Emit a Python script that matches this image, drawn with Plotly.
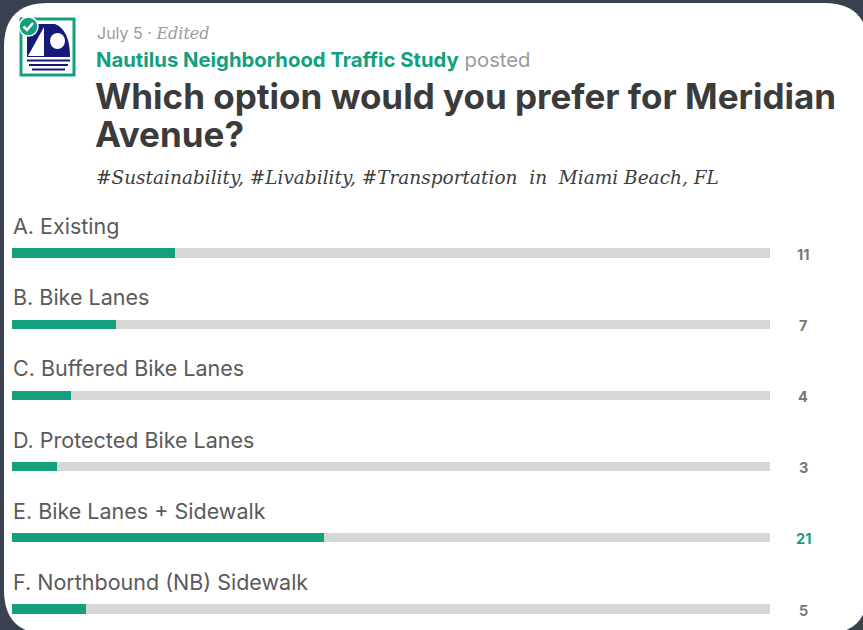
import plotly.graph_objects as go

# ---- data ----
options = ["A. Existing", "B. Bike Lanes", "C. Buffered Bike Lanes",
           "D. Protected Bike Lanes", "E. Bike Lanes + Sidewalk",
           "F. Northbound (NB) Sidewalk"]
votes = [11, 7, 4, 3, 21, 5]
total_votes = sum(votes)

W, H = 863, 630
GREEN = "#13a07e"
TRACK = "#d7d7d7"
NAVY = "#14197a"
BG = "#3a4150"
SANS = "Inter, Open Sans, sans-serif"


def px(x):
    return x / W


def py(y):
    return 1 - y / H


fig = go.Figure()

fig.add_trace(go.Bar(
    y=options, x=[total_votes] * len(options), orientation="h",
    marker=dict(color=TRACK, line=dict(width=0)), width=0.13,
    hoverinfo="skip", showlegend=False))
fig.add_trace(go.Bar(
    y=options, x=votes, orientation="h",
    marker=dict(color=GREEN, line=dict(width=0)), width=0.13,
    hoverinfo="skip", showlegend=False))

annotations = []
maxv = max(votes)
for opt, v in zip(options, votes):
    annotations.append(dict(
        x=0, y=opt, xref="x", yref="y", text=opt, showarrow=False,
        xanchor="left", yanchor="middle", yshift=27, xshift=-1,
        font=dict(family=SANS, size=21.5, color="#5a5a5a")))
    annotations.append(dict(
        x=px(803), y=opt, xref="paper", yref="y", text="<b>%d</b>" % v,
        showarrow=False, xanchor="center", yanchor="middle", yshift=-1,
        font=dict(family=SANS, size=14.5,
                  color=GREEN if v == maxv else "#777777")))

# header texts
annotations += [
    dict(x=px(95), y=py(33), xref="paper", yref="paper", showarrow=False,
         xanchor="left", yanchor="middle",
         text="July 5 · <i><span style='font-family:DejaVu Serif'>Edited</span></i>",
         font=dict(family=SANS, size=16, color="#9a9a9a")),
    dict(x=px(94), y=py(59), xref="paper", yref="paper", showarrow=False,
         xanchor="left", yanchor="middle",
         text="<b>Nautilus Neighborhood Traffic Study</b> <span style='color:#9a9a9a'>posted</span>",
         font=dict(family=SANS, size=20.3, color=GREEN)),
    dict(x=px(93), y=py(96), xref="paper", yref="paper", showarrow=False,
         xanchor="left", yanchor="middle", align="left",
         text="<b>Which option would you prefer for Meridian</b>",
         font=dict(family=SANS, size=35, color="#3b3b3b")),
    dict(x=px(93), y=py(134), xref="paper", yref="paper", showarrow=False,
         xanchor="left", yanchor="middle", align="left",
         text="<b>Avenue?</b>",
         font=dict(family=SANS, size=35, color="#3b3b3b")),
    dict(x=px(94), y=py(177), xref="paper", yref="paper", showarrow=False,
         xanchor="left", yanchor="middle",
         text="<i>#Sustainability, #Livability, #Transportation  in  Miami Beach, FL</i>",
         font=dict(family="DejaVu Serif, serif", size=18.5, color="#3d3d3d")),
]


def path_round_rect(x0, y0, x1, y1, r):
    def P(x, y):
        return "%.5f,%.5f" % (px(x), py(y))
    d = "M " + P(x0 + r, y0)
    d += " L " + P(x1 - r, y0)
    d += " Q " + P(x1, y0) + " " + P(x1, y0 + r)
    d += " L " + P(x1, y1 - r)
    d += " Q " + P(x1, y1) + " " + P(x1 - r, y1)
    d += " L " + P(x0 + r, y1)
    d += " Q " + P(x0, y1) + " " + P(x0, y1 - r)
    d += " L " + P(x0, y0 + r)
    d += " Q " + P(x0, y0) + " " + P(x0 + r, y0)
    return d + " Z"


def poly(points):
    return "M " + " L ".join("%.5f,%.5f" % (px(x), py(y)) for x, y in points) + " Z"


shapes = [
    # white card
    dict(type="path", xref="paper", yref="paper", layer="below",
         path=path_round_rect(4, 3, 868, 634, 44),
         fillcolor="white", line=dict(width=0)),
    # logo frame
    dict(type="rect", xref="paper", yref="paper",
         x0=px(21), x1=px(74), y0=py(75), y1=py(19),
         fillcolor="white", line=dict(color=GREEN, width=3)),
    # navy sail body
    dict(type="path", xref="paper", yref="paper",
         path="M %.5f,%.5f L %.5f,%.5f Q %.5f,%.5f %.5f,%.5f L %.5f,%.5f Z" % (
             px(27), py(24), px(55), py(24), px(70), py(30), px(70), py(57),
             px(27), py(57)),
         fillcolor=NAVY, line=dict(width=0)),
    # white triangle sail
    dict(type="path", xref="paper", yref="paper",
         path=poly([(44, 27), (44, 56), (28, 56)]),
         fillcolor="white", line=dict(width=0)),
    # white circle
    dict(type="circle", xref="paper", yref="paper",
         x0=px(50), x1=px(65), y0=py(49), y1=py(33),
         fillcolor="white", line=dict(width=0)),
    # waves
    dict(type="rect", xref="paper", yref="paper", x0=px(27), x1=px(70),
         y0=py(61.5), y1=py(59.5), fillcolor=NAVY, line=dict(width=0)),
    dict(type="rect", xref="paper", yref="paper", x0=px(29), x1=px(68),
         y0=py(66), y1=py(64), fillcolor=NAVY, line=dict(width=0)),
    dict(type="rect", xref="paper", yref="paper", x0=px(32), x1=px(65),
         y0=py(70.5), y1=py(68.5), fillcolor=NAVY, line=dict(width=0)),
    # check badge
    dict(type="circle", xref="paper", yref="paper",
         x0=px(19), x1=px(38), y0=py(36), y1=py(17),
         fillcolor=GREEN, line=dict(color="white", width=1.5)),
    dict(type="path", xref="paper", yref="paper",
         path="M %.5f,%.5f L %.5f,%.5f L %.5f,%.5f" % (
             px(23.5), py(26.5), px(27), py(30), px(33), py(23)),
         line=dict(color="white", width=2.5)),
]

fig.update_layout(
    width=W, height=H,
    margin=dict(l=0, r=0, t=0, b=0),
    paper_bgcolor=BG,
    plot_bgcolor="rgba(0,0,0,0)",
    barmode="overlay",
    bargap=0,
    xaxis=dict(domain=[px(12), px(770)], range=[0, total_votes],
               visible=False, fixedrange=True),
    yaxis=dict(range=[5 + 21 / 71.2, -253 / 71.2], visible=False,
               categoryorder="array", categoryarray=options, fixedrange=True),
    annotations=annotations,
    shapes=shapes,
)

fig.write_html(
    "out.html",
    config={"displayModeBar": False},
    post_script="document.body.style.margin='0';document.body.style.overflow='hidden';"
                "document.body.style.background='%s';" % BG,
)
